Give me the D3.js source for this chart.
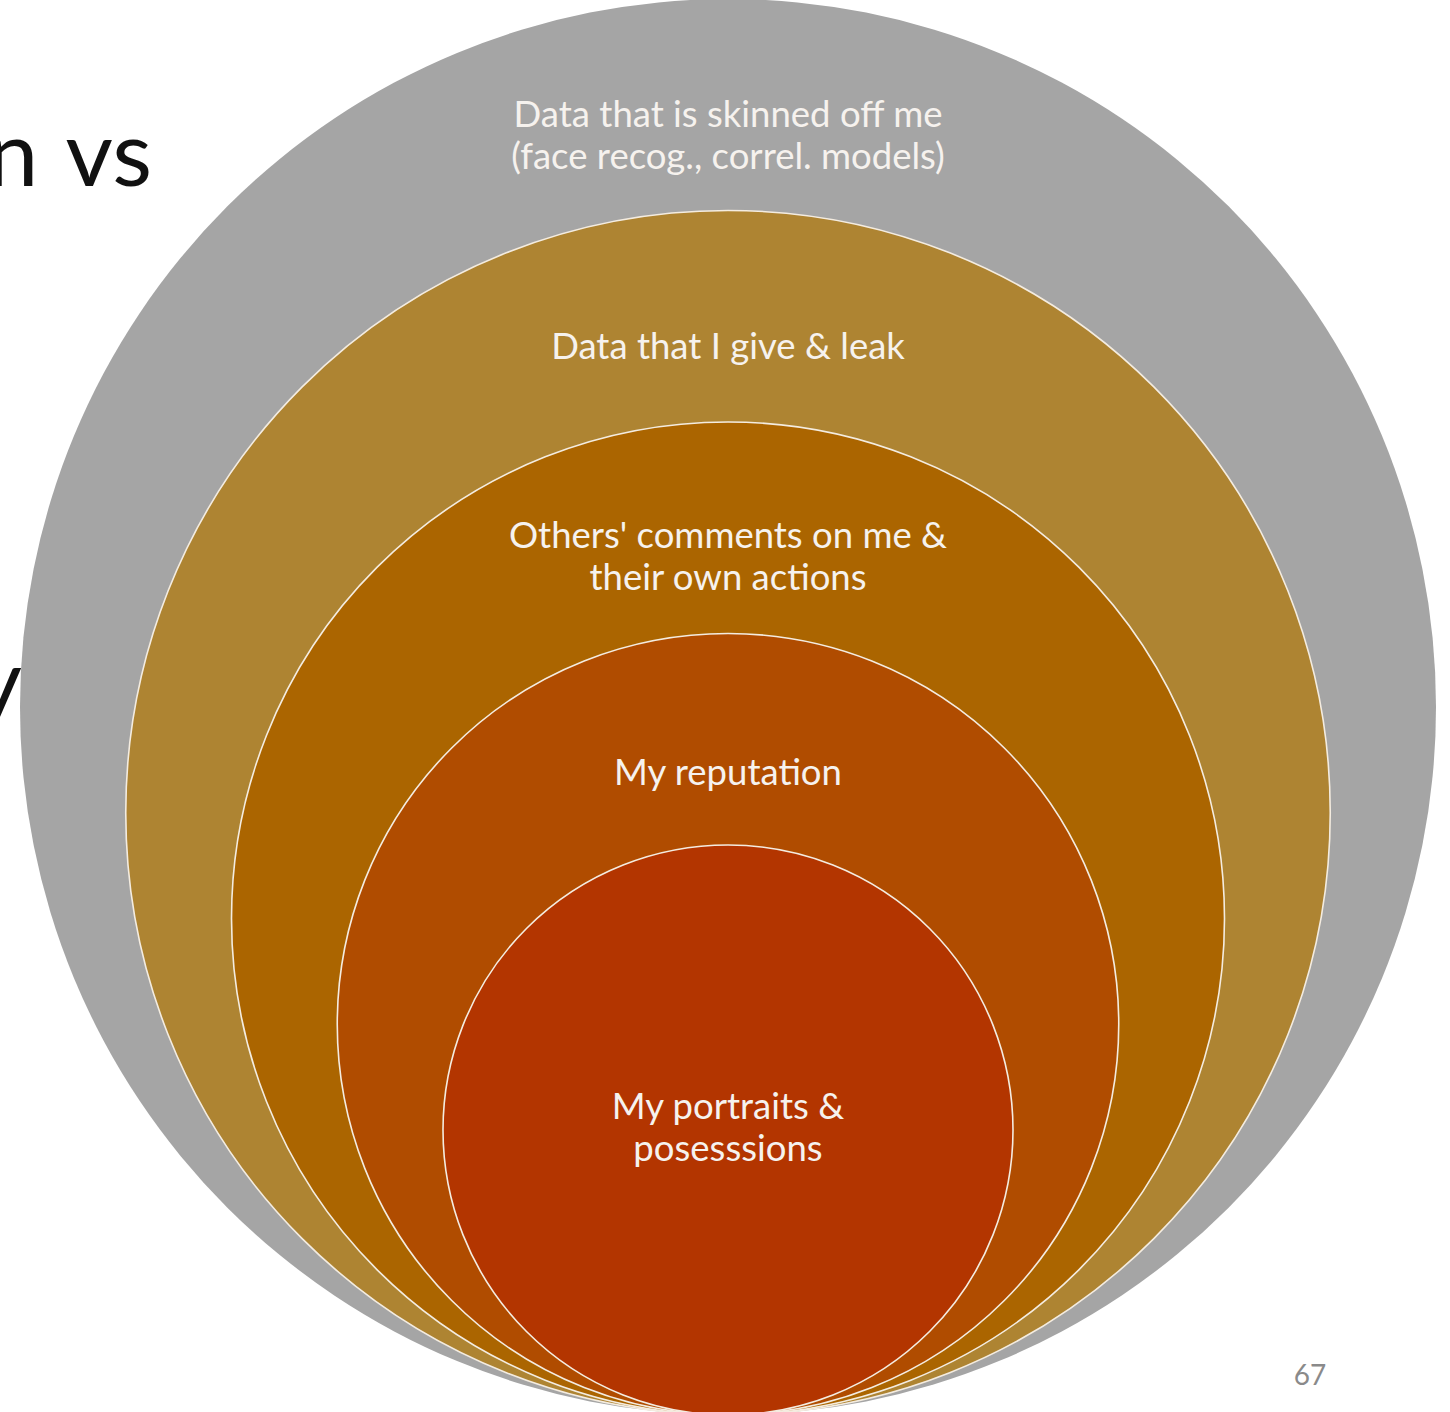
<!DOCTYPE html>
<html><head><meta charset="utf-8">
<script src="https://cdn.jsdelivr.net/npm/d3@7"></script>
<style>html,body{margin:0;padding:0;background:#fff;overflow:hidden}</style>
</head><body>
<svg id="c" width="1450" height="1412"></svg>
<script>
// Data: nested rings from outermost (level 5) to innermost (level 1)
const levels = [5, 4, 3, 2, 1];
const labels = [
  ["Data that is skinned off me", "(face recog., correl. models)"],
  ["Data that I give & leak"],
  ["Others' comments on me &", "their own actions"],
  ["My reputation"],
  ["My portraits &", "posesssions"]
];
const colors = ["#a5a5a5", "#ae8432", "#ab6500", "#b04c00", "#b33500"];
const pageNumber = "67";
const backgroundTexts = ["n vs", "y"];

// layout
const svg = d3.select("#c");
const cx = 728, bottomY = 1415;
const r = d3.scaleLinear().domain([1, 5]).range([285, 708]);
// label baseline offset (from circle top) per ring
const labelOffset = [128, 148, 126, 151, 274];
const lineH = 42;
const font = "Lato, 'Open Sans', sans-serif";

// slide text behind
svg.append("text").attr("x", 152).attr("y", 186).attr("text-anchor", "end")
  .attr("font-family", "Lato, sans-serif").attr("font-weight", 400).attr("font-size", 92)
  .attr("fill", "#111").attr("word-spacing", 6).text(backgroundTexts[0]);
svg.append("text").attr("x", 22).attr("y", 714).attr("text-anchor", "end")
  .attr("font-family", "Lato, sans-serif").attr("font-weight", 400).attr("font-size", 92)
  .attr("fill", "#111").text(backgroundTexts[1]);

const g = svg.append("g");
g.selectAll("circle").data(levels).join("circle")
  .attr("cx", cx)
  .attr("cy", d => bottomY - r(d))
  .attr("r", d => r(d))
  .attr("fill", (d, i) => colors[i])
  .attr("stroke", (d, i) => i === 0 ? "none" : "#f4ece0")
  .attr("stroke-width", 1.6);

const lg = svg.append("g");
levels.forEach((d, i) => {
  const top = bottomY - 2 * r(d);
  labels[i].forEach((line, j) => {
    lg.append("text")
      .attr("x", cx)
      .attr("y", top + labelOffset[i] + j * lineH)
      .attr("text-anchor", "middle")
      .attr("font-family", font)
      .attr("font-size", 36.5)
      .attr("fill", "#f6f2ee")
      .text(line);
  });
});

svg.append("text").attr("x", 1310).attr("y", 1385).attr("text-anchor", "middle")
  .attr("font-family", font).attr("font-size", 28).attr("fill", "#8a8a8a").text(pageNumber);
</script>
</body></html>
